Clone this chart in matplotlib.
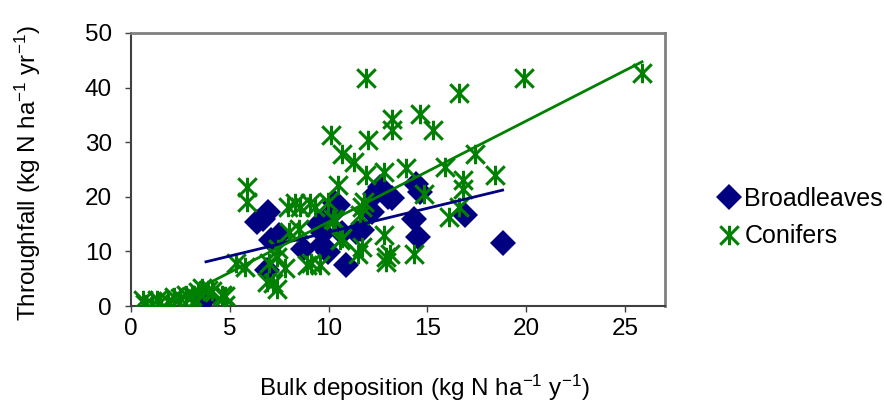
import numpy as np
import matplotlib
matplotlib.use('Agg')
import matplotlib.pyplot as plt
from matplotlib.path import Path

plt.rcParams['font.family'] = ['Liberation Sans', 'DejaVu Sans']
plt.rcParams['mathtext.fontset'] = 'custom'
plt.rcParams['mathtext.rm'] = 'Liberation Sans'
plt.rcParams['mathtext.default'] = 'regular'

# broadleaves: bulk deposition vs throughfall
broad_x = [3.8, 6.4, 6.95, 6.7, 6.87, 7.1, 7.5, 8.7, 9.5, 9.73, 9.65, 9.99, 10.2, 10.3,
           10.5, 10.7, 10.9, 11.4, 11.7, 12.2, 12.35, 12.6, 13.0, 13.2, 14.4, 14.6, 14.3,
           14.5, 16.9, 18.8]
broad_y = [1.5, 15.4, 17.2, 16.0, 6.6, 12.1, 13.0, 10.5, 15.1, 13.3, 11.2, 9.9, 17.0, 18.8,
           18.5, 13.3, 7.5, 13.6, 13.9, 17.2, 20.6, 21.8, 20.0, 19.7, 22.4, 20.9, 16.0,
           12.7, 16.6, 11.5]

# conifers
conif_x = [0.62, 0.7, 1.05, 1.3, 1.5, 1.9, 2.2, 2.5, 2.8, 3.1, 3.2, 3.4, 3.6, 3.9, 4.1,
           4.6, 4.76, 4.76, 5.3, 5.77, 5.86, 5.86, 6.9, 7.0, 7.2, 7.4, 7.4, 7.45, 7.8,
           7.96, 8.0, 8.3, 8.5, 8.55, 8.9, 9.06, 9.1, 9.31, 9.56, 9.99, 10.1, 10.24,
           10.3, 10.5, 10.6, 10.7, 10.7, 11.3, 11.5, 11.6, 11.7, 11.7, 11.8, 11.9, 11.9,
           12.0, 12.8, 12.8, 12.9, 12.9, 13.1, 13.2, 13.2, 13.9, 14.3, 14.6, 14.8, 15.3,
           15.9, 16.1, 16.6, 16.6, 16.8, 16.8, 17.4, 18.4, 19.9, 25.85]
conif_y = [1.2, 0.3, 0.3, 1.2, 0.8, 1.0, 1.6, 1.5, 2.0, 1.8, 0.9, 2.6, 3.3, 2.9, 2.7,
           2.0, 1.8, 0.2, 7.8, 7.2, 21.8, 19.1, 4.4, 7.8, 4.2, 3.2, 9.0, 10.5, 6.9,
           18.2, 13.6, 18.8, 14.2, 18.2, 7.5, 18.8, 7.8, 18.2, 7.5, 19.1, 31.3, 16.0,
           15.7, 22.1, 12.1, 27.9, 12.4, 26.4, 9.6, 16.6, 18.2, 10.8, 19.1, 24.0, 41.7,
           30.4, 24.6, 13.0, 9.0, 8.1, 9.6, 34.3, 32.2, 25.2, 9.6, 35.1, 20.6, 32.3,
           25.5, 16.3, 39.0, 18.2, 23.0, 21.5, 27.8, 24.0, 41.8, 42.7]

# linear trend lines (slope, intercept)
broad_fit = (0.875, 4.78)
conif_fit = (1.85, -3.1)

navy = '#000080'
green = '#008000'

# excel-like asterisk marker: an X with a vertical bar
star = Path([(-1, -1), (1, 1), (-1, 1), (1, -1), (0, -1.05), (0, 1.05)],
            [Path.MOVETO, Path.LINETO] * 3)

fig = plt.figure(figsize=(8.84, 4.07), dpi=100)
ax = fig.add_axes([0.148, 0.248, 0.604, 0.671])

ax.plot(broad_x, broad_y, linestyle='none', marker='D', markersize=13.5,
        color=navy, markeredgecolor=navy, markeredgewidth=0, label='Broadleaves', zorder=3)
ax.plot(conif_x, conif_y, linestyle='none', marker=star, markersize=14,
        color=green, markerfacecolor='none', markeredgecolor=green,
        markeredgewidth=2.2, label='Conifers', zorder=3)

bx = np.array([min(broad_x), max(broad_x)])
ax.plot(bx, broad_fit[0] * bx + broad_fit[1], color=navy, lw=2, zorder=4)
cx = np.array([min(conif_x), max(conif_x)])
ax.plot(cx, conif_fit[0] * cx + conif_fit[1], color=green, lw=2, zorder=4)

ax.set_xlim(0, 27)
ax.set_ylim(0, 50)
ax.set_xticks([0, 5, 10, 15, 20, 25])
ax.set_yticks([0, 10, 20, 30, 40, 50])
ax.tick_params(direction='out', length=4.5, width=1, labelsize=17.5, color='#404040')
ax.tick_params(axis='y', pad=9)
ax.tick_params(axis='x', pad=4)

for s in ['top', 'right']:
    ax.spines[s].set_color('#808080')
    ax.spines[s].set_linewidth(2)
for s in ['left', 'bottom']:
    ax.spines[s].set_color('#404040')
    ax.spines[s].set_linewidth(1.5)

ax.set_xlabel('Bulk deposition (kg N ha$^{-1}$ y$^{-1}$)', fontsize=17.5)
ax.set_ylabel('Throughfall (kg N ha$^{-1}$ yr$^{-1}$)', fontsize=17.5)
ax.xaxis.set_label_coords(0.549, -0.245)
ax.yaxis.set_label_coords(-0.165, 0.485)

leg = ax.legend(loc='center left', bbox_to_anchor=(1.065, 0.324), frameon=False,
                fontsize=18, handlelength=0.6, handletextpad=0.3, labelspacing=0.55,
                borderpad=0.4)

fig.savefig('out.png', dpi=100)
